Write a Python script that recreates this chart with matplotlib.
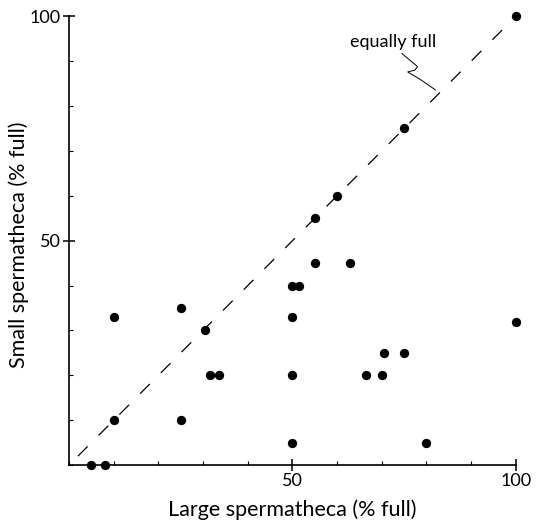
import numpy as np
import matplotlib.pyplot as plt
from matplotlib.ticker import MultipleLocator

# percent full: large spermatheca (x) vs small spermatheca (y)
large_full = [100, 75, 60, 55, 55, 63, 50, 51.5, 50, 100, 70.5, 75, 66.5, 70, 50,
              50, 80, 10, 25, 30.5, 31.5, 33.5, 10, 25, 5, 8]
small_full = [100, 75, 60, 55, 45, 45, 40, 40, 33, 32, 25, 25, 20, 20, 20,
              5, 5, 33, 35, 30, 20, 20, 10, 10, 0, 0]
tick_vals = [50, 100]
line_label = "equally full"

plt.rcParams['font.family'] = ['Lato', 'DejaVu Sans']

fig = plt.figure(figsize=(5.39, 5.25), dpi=100)
ax = fig.add_axes([0.128, 0.114, 0.829, 0.855])

# equality line
ax.plot([2, 100], [2, 100], color='black', lw=0.9, dashes=(11, 12.5))

ax.plot(large_full, small_full, 'o', color='black', ms=5.7, clip_on=False, zorder=3)

# label with a squiggly leader to the dashed line
ax.text(72.6, 94.2, line_label, ha='center', va='center', fontsize=13)
sq_x = [74.5, 78.0, 77.4, 75.8, 78.5, 82.0]
sq_y = [91.7, 88.8, 88.0, 87.6, 86.0, 83.6]
ax.plot(sq_x, sq_y, color='black', lw=0.7)

ax.set_xlim(0, 100)
ax.set_ylim(0, 100)
ax.set_xticks(tick_vals)
ax.set_yticks(tick_vals)
ax.xaxis.set_minor_locator(MultipleLocator(10))
ax.yaxis.set_minor_locator(MultipleLocator(10))
ax.tick_params(which='major', direction='inout', length=8, width=1.1, labelsize=13, pad=2)
ax.tick_params(which='minor', direction='in', length=3, width=0.8)

for s in ['top', 'right']:
    ax.spines[s].set_visible(False)
for s in ['left', 'bottom']:
    ax.spines[s].set_linewidth(1.2)

ax.set_xlabel("Large spermatheca (% full)", fontsize=15.5, labelpad=7)
ax.set_ylabel("Small spermatheca (% full)", fontsize=15.5)
ax.yaxis.set_label_coords(-0.09, 0.49)

fig.savefig("out.png", dpi=100)
